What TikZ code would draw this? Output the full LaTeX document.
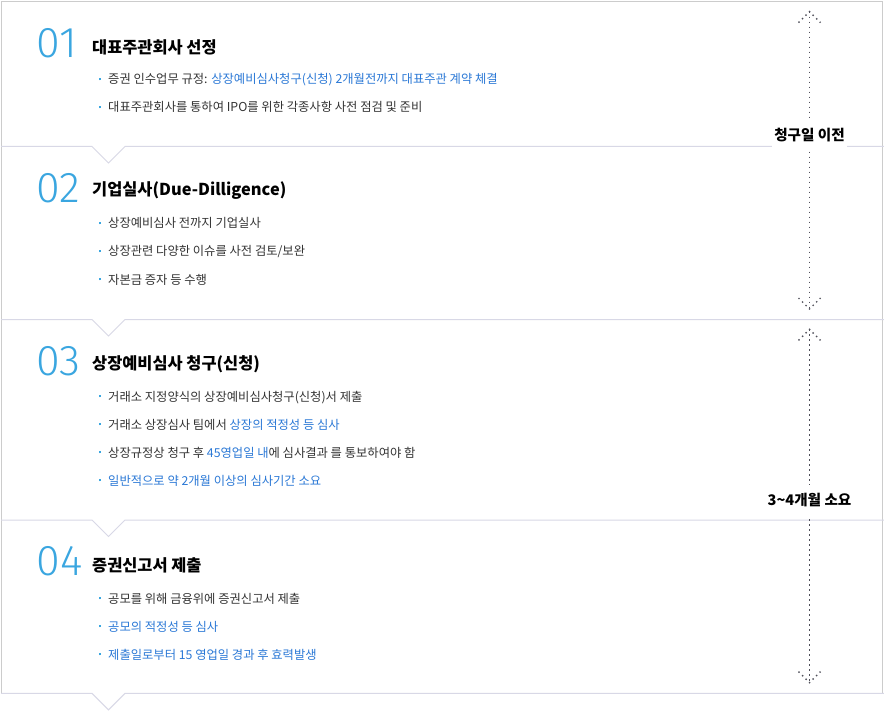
\documentclass[tikz,border=0pt]{standalone}
\usepackage{fontspec}
\setmainfont{Noto Sans CJK KR}
\newfontfamily\numfont{Fira Sans Light}
\definecolor{numblue}{HTML}{3AA6E0}
\definecolor{txtblue}{HTML}{2A78D6}
\definecolor{txtdark}{HTML}{333333}
\definecolor{sepcol}{HTML}{D8D8E6}
\definecolor{bordcol}{HTML}{CCCCCC}
\definecolor{dotcol}{HTML}{50505A}
\newcommand{\bdot}{\textcolor{numblue}{\rule[3.6pt]{2pt}{2pt}}\hspace{7pt}}
\newcommand{\bl}[1]{\textcolor{txtblue}{#1}}
\tikzset{
  numstyle/.style={anchor=base west, inner sep=0pt, text=numblue, font=\fontsize{43}{46}\numfont},
  titlestyle/.style={anchor=base west, inner sep=0pt, text=black, font=\fontsize{16.4}{19}\selectfont\bfseries},
  bulstyle/.style={anchor=base west, inner sep=0pt, text=txtdark, font=\fontsize{12.3}{15}\selectfont},
  sidelab/.style={fill=white, inner xsep=2pt, inner ysep=0pt, minimum height=32pt, text=black, font=\fontsize{14.6}{17}\selectfont\bfseries},
  sepline/.style={draw=sepcol, line width=1pt},
  dotline/.style={draw=dotcol, line width=1.4pt, dash pattern=on 1.4pt off 3.6pt}
}
\begin{document}
\begin{tikzpicture}[x=1pt,y=-1pt]
\useasboundingbox (0,0) rectangle (884,714);
\fill[white] (0,0) rectangle (884,714);
% outer border
\draw[bordcol, line width=1pt] (1.5,693.3) -- (1.5,1.5) -- (882.5,1.5) -- (882.5,693.3);
% separators with notches
\foreach \yy in {146.5,319.5,520,693.3}{
  \draw[sepline] (1,\yy) -- (92,\yy) -- (108.5,\yy+16.5) -- (125,\yy) -- (884,\yy);
}
% section 1
\node[numstyle] (n1) at (36.5,58) {01};
\node[titlestyle] (t1) at (92,54) {대표주관회사 선정};
\node[bulstyle] (b11) at (99,84) {\bdot 증권 인수업무 규정: \bl{상장예비심사청구(신청) 2개월전까지 대표주관 계약 체결}};
\node[bulstyle] (b12) at (99,112) {\bdot 대표주관회사를 통하여 IPO를 위한 각종사항 사전 점검 및 준비};
% section 2
\node[numstyle] (n2) at (36.5,203) {02};
\node[titlestyle] (t2) at (92,196) {기업실사(Due-Dilligence)};
\node[bulstyle] (b21) at (99,228) {\bdot 상장예비심사 전까지 기업실사};
\node[bulstyle] (b22) at (99,256) {\bdot 상장관련 다양한 이슈를 사전 검토/보완};
\node[bulstyle] (b23) at (99,284) {\bdot 자본금 증자 등 수행};
% section 3
\node[numstyle] (n3) at (36.5,375) {03};
\node[titlestyle] (t3) at (92,369) {상장예비심사 청구(신청)};
\node[bulstyle] (b31) at (99,401) {\bdot 거래소 지정양식의 상장예비심사청구(신청)서 제출};
\node[bulstyle] (b32) at (99,429) {\bdot 거래소 상장심사 팀에서 \bl{상장의 적정성 등 심사}};
\node[bulstyle] (b33) at (99,457) {\bdot 상장규정상 청구 후 \bl{45영업일 내}에 심사결과 를 통보하여야 함};
\node[bulstyle] (b34) at (99,485) {\bdot \bl{일반적으로 약 2개월 이상의 심사기간 소요}};
% section 4
\node[numstyle] (n4) at (36.5,575) {04};
\node[titlestyle] (t4) at (92,571) {증권신고서 제출};
\node[bulstyle] (b41) at (99,603) {\bdot 공모를 위해 금융위에 증권신고서 제출};
\node[bulstyle] (b42) at (99,631) {\bdot \bl{공모의 적정성 등 심사}};
\node[bulstyle] (b43) at (99,659) {\bdot \bl{제출일로부터 15 영업일 경과 후 효력발생}};
% dotted arrows
\coordinate (a1t) at (809.5,11.7);
\coordinate (a1b) at (809.5,309);
\coordinate (a2t) at (809.5,329.3);
\coordinate (a2b) at (809.5,682.7);
\draw[dotline] (a1t) -- (a1b);
\draw[dotline] (a2t) -- (a2b);
\draw[dotline] (a1t) ++(-11,11) -- (a1t) -- ++(11,11);
\draw[dotline] (a1b) ++(-11,-11) -- (a1b) -- ++(11,-11);
\draw[dotline] (a2t) ++(-11,11) -- (a2t) -- ++(11,11);
\draw[dotline] (a2b) ++(-11,-11) -- (a2b) -- ++(11,-11);
% side labels
\node[sidelab] (l1) at (809.5,135) {청구일 이전};
\node[sidelab] (l2) at (809.5,500.5) {3\textasciitilde 4개월 소요};
\end{tikzpicture}
\end{document}
